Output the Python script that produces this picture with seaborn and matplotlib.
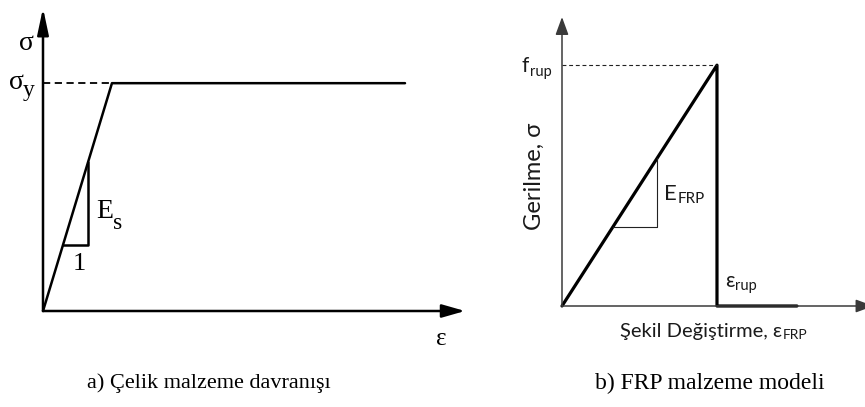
import matplotlib
matplotlib.use("Agg")
import matplotlib.pyplot as plt
import seaborn as sns
import pandas as pd

sns.set_theme(style="white")
plt.rcParams["font.family"] = ["Liberation Serif", "DejaVu Serif"]

# ---------------- data (normalised units) ----------------
# a) steel: elastic-perfectly plastic
steel_strain = [0.0, 1.0, 5.25]
steel_stress = [0.0, 1.0, 1.0]
steel_yield_dash_x = [0.0, 1.0]
steel_yield_dash_y = [1.0, 1.0]
steel_tri_x = [0.29, 0.652, 0.652]
steel_tri_y = [0.29, 0.29, 0.652]
steel_axis_end = (6.12, 1.33)

# b) FRP: linear elastic to rupture
frp_strain = [0.0, 1.0, 1.0, 1.516]
frp_stress = [0.0, 1.0, 0.0, 0.0]
frp_dash_x = [0.0, 1.0]
frp_dash_y = [1.0, 1.0]
frp_tri_x = [0.33, 0.613, 0.613]
frp_tri_y = [0.33, 0.33, 0.613]
frp_view = (1.955, 1.20)
frp_axis_end = (2.01, 1.20)

captions = ["a) Çelik malzeme davranışı", "b) FRP malzeme modeli"]

W, H = 865, 407
fig = plt.figure(figsize=(W / 100, H / 100), dpi=100)
fig.patch.set_facecolor("white")
renderer = fig.canvas.get_renderer()


def px(x, y):
    return x / W, 1 - y / H


def arrow(ax, end, lw, color, ms=20, hl=0.6, hw=0.22):
    ax.annotate("", xy=end, xytext=(0, 0),
                arrowprops=dict(arrowstyle=f"-|>,head_length={hl},head_width={hw}",
                                color=color, lw=lw, shrinkA=0, shrinkB=0,
                                mutation_scale=ms),
                annotation_clip=False)


def label_with_sub(x, y, main, sub, size, subsize, drop, gap=0.5, **kw):
    t = fig.text(*px(x, y), main, fontsize=size, ha="left", va="baseline", **kw)
    bb = t.get_window_extent(renderer)
    fig.text((bb.x1 + gap) / W, 1 - (y + drop) / H, sub, fontsize=subsize,
             ha="left", va="baseline", **kw)


# ---------------- panel a ----------------
ax1 = fig.add_axes([43 / W, 1 - 311 / H, 422 / W, 303 / H])
ax1.set_xlim(0, steel_axis_end[0])
ax1.set_ylim(0, steel_axis_end[1])
ax1.axis("off")
sns.lineplot(x=steel_strain, y=steel_stress, ax=ax1, color="black", lw=1.8,
             sort=False, estimator=None)
sns.lineplot(x=steel_tri_x, y=steel_tri_y, ax=ax1, color="black", lw=1.8,
             sort=False, estimator=None)
ax1.plot(steel_yield_dash_x, steel_yield_dash_y, color="black", lw=1.3,
         ls=(0, (4, 2.5)))
arrow(ax1, (steel_axis_end[0], 0), 1.8, "black", hl=0.7, hw=0.2)
arrow(ax1, (0, steel_axis_end[1]), 1.8, "black", hl=0.8, hw=0.17)
for l in ax1.lines:
    l.set_clip_on(False)

serif = dict(color="black", family=["Liberation Serif", "DejaVu Serif"])
fig.text(*px(26, 44), "σ", fontsize=20, ha="center", va="center", **serif)
label_with_sub(9, 89, "σ", "y", 20, 17, 7, gap=-1, **serif)
label_with_sub(96, 218, "E", "s", 20, 17, 11, gap=0, **serif)
fig.text(*px(79, 264), "1", fontsize=19, ha="center", va="center", **serif)
fig.text(*px(441, 339), "ε", fontsize=18, ha="center", va="center", **serif)

fig.text(*px(209, 383), captions[0], fontsize=16, ha="center", va="center", **serif)
fig.text(*px(710, 383), captions[1], fontsize=17, ha="center", va="center", **serif)

# ---------------- panel b ----------------
ax2 = fig.add_axes([562 / W, 1 - 306 / H, 303 / W, 289 / H])
ax2.set_xlim(0, frp_view[0])
ax2.set_ylim(0, frp_view[1])
ax2.axis("off")
axis_col = "#3a3a3a"
arrow(ax2, (frp_axis_end[0], 0), 1.1, axis_col, ms=18)
arrow(ax2, (0, frp_axis_end[1]), 1.1, axis_col, ms=18)
sns.lineplot(x=frp_strain, y=frp_stress, ax=ax2, color="black", lw=2.3,
             sort=False, estimator=None)
sns.lineplot(x=frp_tri_x, y=frp_tri_y, ax=ax2, color="#222222", lw=0.8,
             sort=False, estimator=None)
ax2.plot(frp_dash_x, frp_dash_y, color="#222222", lw=0.8, ls=(0, (3.5, 2.5)))
for l in ax2.lines:
    l.set_clip_on(False)

sans = dict(color="#1a1a1a", family=["Lato", "Open Sans", "DejaVu Sans"])

label_with_sub(522, 72, "f", "rup", 15, 10.5, 4, **sans)
label_with_sub(664, 200, "E", "FRP", 16, 11, 3, **sans)
label_with_sub(725, 287, "ε", "rup", 15, 10.5, 3, **sans)
label_with_sub(620, 337, "Şekil Değiştirme, ε", "FRP", 14.5, 10, 2, **sans)
fig.text(*px(534, 176), "Gerilme, σ", fontsize=17, rotation=90, ha="center",
         va="center", **sans)

fig.savefig("out.png", dpi=100, facecolor="white")
